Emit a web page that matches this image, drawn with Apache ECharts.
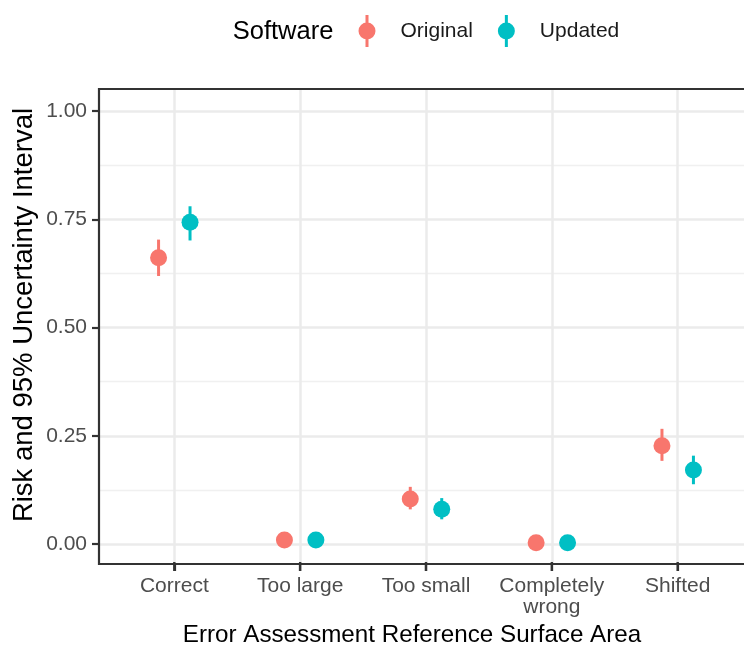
<!DOCTYPE html>
<html>
<head>
<meta charset="utf-8">
<script src="https://cdn.jsdelivr.net/npm/echarts@6/dist/echarts.min.js"></script>
<style>
html,body{margin:0;padding:0;background:#fff;}
#chart{width:744px;height:646px;}
</style>
</head>
<body>
<div id="chart"></div>
<script>
var categories = ['Correct', 'Too large', 'Too small', 'Completely\nwrong', 'Shifted'];
var originalEst = [0.661, 0.009, 0.104, 0.003, 0.227];
var originalLo  = [0.619, 0.004, 0.080, 0.000, 0.192];
var originalHi  = [0.703, 0.015, 0.132, 0.007, 0.266];
var updatedEst  = [0.743, 0.009, 0.080, 0.003, 0.171];
var updatedLo   = [0.701, 0.004, 0.057, 0.000, 0.138];
var updatedHi   = [0.780, 0.015, 0.106, 0.007, 0.204];
var yTicks = [0, 0.25, 0.5, 0.75, 1];

var FONT = "'Liberation Sans', Arial, sans-serif";
var C_ORIG = '#F8766D', C_UPD = '#00BFC4';

function rows(est, lo, hi){
  return est.map(function(v, i){ return [i, v, lo[i], hi[i]]; });
}
function makeRender(color, dodge){
  return function(params, api){
    var cat = api.value(0);
    var off = api.size([1, 0])[0] * dodge;
    var c = api.coord([cat, api.value(1)]);
    var cl = api.coord([cat, api.value(2)]);
    var ch = api.coord([cat, api.value(3)]);
    var x = c[0] + off;
    return {type:'group', children:[
      {type:'line', shape:{x1:x, y1:ch[1], x2:x, y2:cl[1]}, style:{stroke:color, lineWidth:3}},
      {type:'circle', shape:{cx:x, cy:c[1], r:8.5}, style:{fill:color}}
    ]};
  };
}
function renderTick(params, api){
  var p = api.coord([api.value(0), 0]);
  return {type:'rect', shape:{x:p[0] - 1.2, y:p[1] - 2, width:2.4, height:9}, style:{fill:'#333333'}, z2:100};
}
var iconPath = 'path://M-1.5,-16 L1.5,-16 L1.5,16 L-1.5,16 Z M0,-8.5 A8.5,8.5 0 1 1 0,8.5 A8.5,8.5 0 1 1 0,-8.5 Z';

var chart = echarts.init(document.getElementById('chart'), null, {renderer:'canvas'});
chart.setOption({
  animation: false,
  backgroundColor: '#fff',
  textStyle: {fontFamily: FONT},
  grid: [
    // panel border
    {left:99, top:89, width:654, height:475, outerBoundsMode:'none', containLabel:false, show:true, borderColor:'#333333', borderWidth:2.2, backgroundColor:'transparent', z:10},
    // y axis labels + horizontal grid lines
    {left:99, top:111, width:654, height:433, outerBoundsMode:'none', containLabel:false},
    // x axis labels + vertical grid lines
    {left:174.3, top:89, width:503.4, height:475, outerBoundsMode:'none', containLabel:false},
    // data
    {left:174.3, top:111, width:503.4, height:433, outerBoundsMode:'none', containLabel:false}
  ],
  xAxis: [
    {gridIndex:0, type:'value', show:false},
    {gridIndex:1, type:'value', show:false},
    {gridIndex:2, type:'category', data:categories, boundaryGap:false, position:'bottom',
     axisLine:{show:false, onZero:false},
     axisTick:{show:true, inside:false, interval:0, length:7, lineStyle:{color:'#333333', width:2.2}},
     axisLabel:{color:'#4D4D4D', fontSize:21, fontFamily:FONT, margin:12, lineHeight:21, interval:0},
     splitLine:{show:true, interval:0, lineStyle:{color:'#EBEBEB', width:2.5}}},
    {gridIndex:3, type:'category', data:categories, boundaryGap:false, show:false}
  ],
  yAxis: [
    {gridIndex:0, type:'value', show:false},
    {gridIndex:1, type:'value', min:yTicks[0], max:yTicks[yTicks.length-1], interval:0.25,
     axisLine:{show:false},
     axisTick:{show:true, inside:false, length:7, lineStyle:{color:'#333333', width:2.2}},
     axisLabel:{color:'#4D4D4D', fontSize:21, fontFamily:FONT, margin:12,
       formatter:function(v){ return v.toFixed(2); }},
     splitLine:{show:true, lineStyle:{color:'#EBEBEB', width:2.5}},
     minorTick:{show:false, splitNumber:2},
     minorSplitLine:{show:true, lineStyle:{color:'#F0F0F0', width:1.3}}},
    {gridIndex:2, type:'value', min:0, max:1, show:false},
    {gridIndex:3, type:'value', min:yTicks[0], max:yTicks[yTicks.length-1], show:false}
  ],
  legend: {
    data:['Original','Updated'], left:353.5, top:10, orient:'horizontal',
    icon: iconPath, itemWidth:17, itemHeight:32, itemGap:25,
    textStyle:{color:'#1A1A1A', fontSize:21, fontFamily:FONT, padding:[0,0,0,20]}
  },
  graphic: [
    {type:'text', left:232.7, top:19, style:{text:'Software', fontSize:25.5, fontFamily:FONT, fill:'#000'}},
    {type:'text', x:412, y:635, style:{text:'Error Assessment Reference Surface Area', fontSize:24.2, fontFamily:FONT, fill:'#000', align:'center', verticalAlign:'middle'}},
    {type:'text', x:24, y:315, rotation:Math.PI/2, style:{text:'Risk and 95% Uncertainty Interval', fontSize:27.5, fontFamily:FONT, fill:'#000', align:'center', verticalAlign:'middle'}}
  ],
  series: [
    {name:'xTicks', type:'custom', xAxisIndex:2, yAxisIndex:2, clip:false, silent:true, z:20,
     renderItem: renderTick, data: categories.map(function(c, i){ return [i, 0]; })},
    {name:'Original', type:'custom', xAxisIndex:3, yAxisIndex:3, clip:false,
     itemStyle:{color:C_ORIG}, encode:{x:0, y:1},
     renderItem: makeRender(C_ORIG, -0.125), data: rows(originalEst, originalLo, originalHi)},
    {name:'Updated', type:'custom', xAxisIndex:3, yAxisIndex:3, clip:false,
     itemStyle:{color:C_UPD}, encode:{x:0, y:1},
     renderItem: makeRender(C_UPD, 0.125), data: rows(updatedEst, updatedLo, updatedHi)}
  ]
});
</script>
</body>
</html>
